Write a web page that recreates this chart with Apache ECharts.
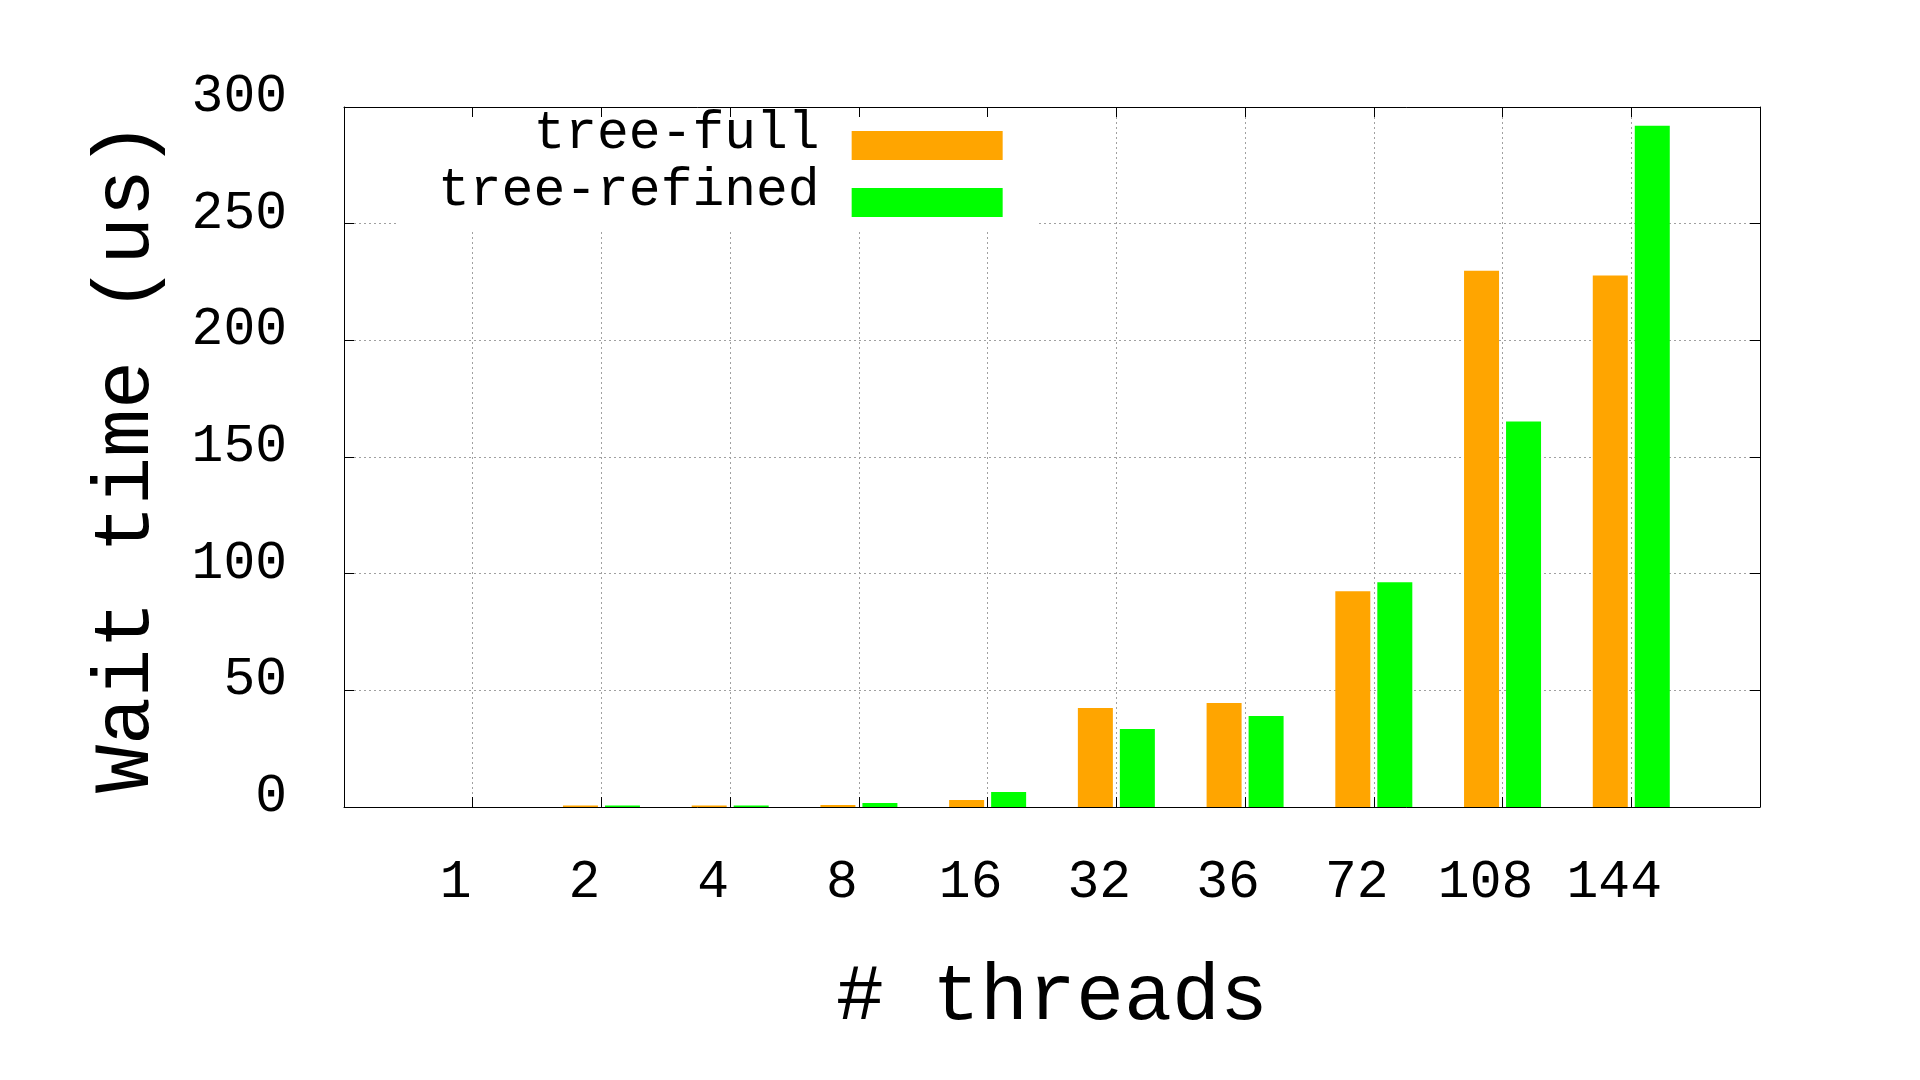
<!DOCTYPE html>
<html>
<head>
<meta charset="utf-8">
<script src="https://cdn.jsdelivr.net/npm/echarts@6/dist/echarts.min.js"></script>
<style>
html,body{margin:0;padding:0;background:#fff;}
#chart{width:1920px;height:1080px;}
</style>
</head>
<body>
<div id="chart"></div>
<script>
const categories = ['1', '2', '4', '8', '16', '32', '36', '72', '108', '144'];
const treeFull = [0, 0.6, 0.6, 0.9, 3.0, 42.4, 44.6, 92.5, 229.8, 227.8];
const treeRefined = [0, 0.6, 0.6, 1.7, 6.4, 33.4, 39.0, 96.3, 165.2, 292.0];
const yTicks = [0, 50, 100, 150, 200, 250, 300];

const FONT = 'Liberation Mono';
const gridLine = { show: true, lineStyle: { color: '#a0a0a0', width: 1, type: [2, 3] } };
function axisLine() { return { show: true, onZero: false, lineStyle: { color: '#000', width: 1 } }; }
function tick() { return { show: true, inside: true, length: 10, lineStyle: { color: '#000', width: 1 } }; }
// legend swatch: invisible zero-area top part, filled rectangle in the lower part
const legendIcon = 'path://M0 0 L151 0 L151 0 Z M0 24 L151 24 L151 53 L0 53 Z';

const chart = echarts.init(document.getElementById('chart'), null, { renderer: 'canvas' });
chart.setOption({
  backgroundColor: '#fff',
  animation: false,
  grid: { left: 344, top: 107, width: 1416, height: 700, containLabel: false },
  legend: {
    orient: 'vertical',
    align: 'right',
    left: 397,
    top: 107,
    z: 1,
    backgroundColor: '#fff',
    padding: [0, 35, 12, 41],
    itemGap: 4,
    itemWidth: 151,
    itemHeight: 53,
    icon: legendIcon,
    selectedMode: false,
    textStyle: { fontFamily: FONT, fontSize: 53, color: '#000', lineHeight: 29, padding: [0, 27, 0, 0] },
    data: ['tree-full', 'tree-refined']
  },
  xAxis: [
    {
      type: 'value', position: 'bottom', min: -1, max: 10, interval: 1, z: 0,
      axisLine: axisLine(), axisTick: tick(), splitLine: gridLine,
      axisLabel: {
        show: true, margin: 49, fontFamily: FONT, fontSize: 53, color: '#000',
        padding: [0, 34, 0, 0],
        formatter: function (v) { return (v >= 0 && v < categories.length) ? categories[v] : ''; }
      },
      name: '# threads', nameLocation: 'middle', nameGap: 151,
      nameTextStyle: { fontFamily: FONT, fontSize: 80, color: '#000' }
    },
    {
      type: 'value', position: 'top', min: -1, max: 10, interval: 1, z: 5,
      axisLine: axisLine(), axisTick: tick(), splitLine: { show: false }, axisLabel: { show: false }
    }
  ],
  yAxis: [
    {
      type: 'value', position: 'left', min: yTicks[0], max: yTicks[yTicks.length - 1], interval: 50, z: 0,
      axisLine: axisLine(), axisTick: tick(), splitLine: gridLine,
      axisLabel: { show: true, margin: 57, fontFamily: FONT, fontSize: 53, color: '#000', verticalAlign: 'bottom', lineHeight: 20 },
      name: 'Wait time (us)', nameLocation: 'middle', nameRotate: 90, nameGap: 177,
      nameTextStyle: { fontFamily: FONT, fontSize: 80, color: '#000' }
    },
    {
      type: 'value', position: 'right', min: 0, max: 300, interval: 50, z: 5,
      axisLine: axisLine(), axisTick: tick(), splitLine: { show: false }, axisLabel: { show: false }
    }
  ],
  series: [
    {
      name: 'tree-full', type: 'bar', xAxisIndex: 0, yAxisIndex: 0,
      barWidth: 35, barGap: '20%', itemStyle: { color: '#ffa500' },
      data: categories.map(function (c, i) { return [i, treeFull[i]]; })
    },
    {
      name: 'tree-refined', type: 'bar', xAxisIndex: 0, yAxisIndex: 0,
      barWidth: 35, barGap: '20%', itemStyle: { color: '#00ff00' },
      data: categories.map(function (c, i) { return [i, treeRefined[i]]; })
    }
  ]
});
</script>
</body>
</html>
